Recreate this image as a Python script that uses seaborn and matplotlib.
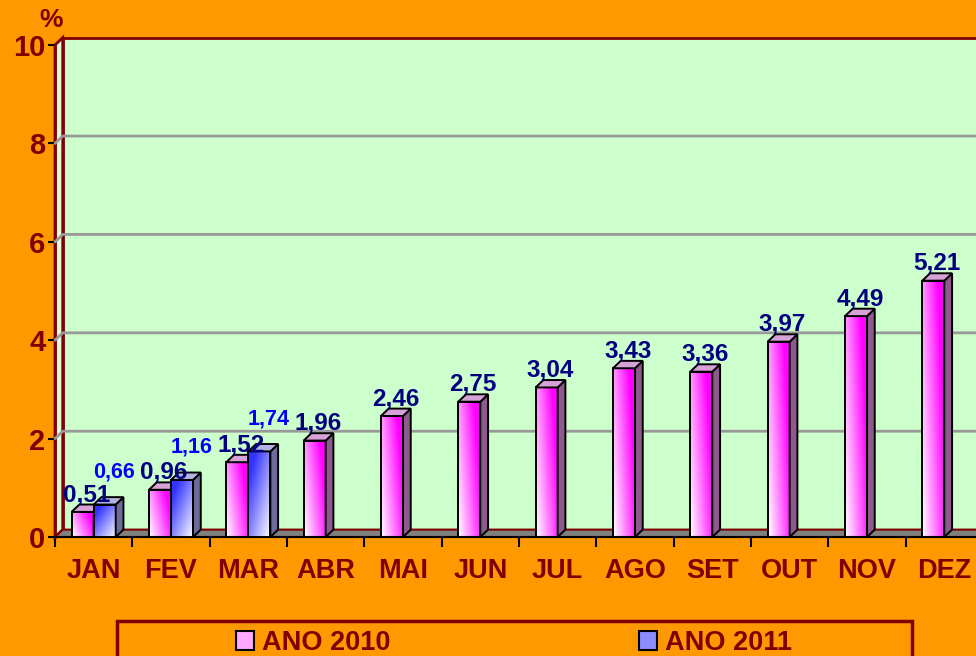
import numpy as np
import pandas as pd
import seaborn as sns
import matplotlib.pyplot as plt
from matplotlib.colors import to_rgb
from matplotlib.patches import Polygon, Rectangle, Patch

# ---------------------------------------------------------------
# Data
# ---------------------------------------------------------------
MESES = ["JAN", "FEV", "MAR", "ABR", "MAI", "JUN", "JUL", "AGO", "SET", "OUT", "NOV", "DEZ"]
ANO_2010 = [0.51, 0.96, 1.52, 1.96, 2.46, 2.75, 3.04, 3.43, 3.36, 3.97, 4.49, 5.21]
ANO_2011 = [0.66, 1.16, 1.74] + [np.nan] * 9
SERIES = ["ANO 2010", "ANO 2011"]
Y_TICKS = [0, 2, 4, 6, 8, 10]

df = pd.DataFrame({
    "mes": MESES * 2,
    "ano": [SERIES[0]] * len(MESES) + [SERIES[1]] * len(MESES),
    "valor": ANO_2010 + ANO_2011,
})

# colours
ORANGE = "#FF9900"
WALL = "#CCFFCC"
DARKRED = "#800000"
BAR_TOP = ["#FF00FF", "#3333FF"]      # strongest colour of each gradient
SIDE = ["#8E5A8E", "#6B6B9C"]
TOPFACE = ["#D7A2D7", "#B4B4E2"]
LABEL_COL = ["#000080", "#0000FF"]

# pseudo 3D depth (data units)
DX, DY = 0.10, 0.15

sns.set_theme(style="white")
plt.rcParams["font.family"] = ["Liberation Sans", "DejaVu Sans"]
plt.rcParams["font.weight"] = "bold"

fig = plt.figure(figsize=(9.76, 6.56), dpi=100, facecolor=ORANGE)
ax = fig.add_axes([55 / 976, 119 / 656, 928 / 976, 492 / 656])
ax.set_facecolor("none")

sns.barplot(data=df, x="mes", y="valor", hue="ano", hue_order=SERIES, order=MESES,
            width=0.57, palette=BAR_TOP, errorbar=None, legend=False, ax=ax)

x0, x1 = -0.5, len(MESES) - 0.5
ymax = Y_TICKS[-1]

# walls + floor
ax.add_patch(Rectangle((x0 + DX, DY), x1 - x0, ymax, fc=WALL, ec=DARKRED, lw=2,
                       zorder=0, clip_on=False))
ax.add_patch(Polygon([(x0, 0), (x0 + DX, DY), (x0 + DX, ymax + DY), (x0, ymax)],
                     fc="#DDFFDD", ec=DARKRED, lw=2, zorder=0.5, clip_on=False))
ax.add_patch(Polygon([(x0, 0), (x1, 0), (x1 + DX, DY), (x0 + DX, DY)],
                     fc="#808080", ec=DARKRED, lw=1.5, zorder=0.5, clip_on=False))
for v in Y_TICKS[1:-1]:
    ax.plot([x0, x0 + DX, x1 + DX], [v, v + DY, v + DY], color="#999999", lw=2,
            zorder=1, clip_on=False)


def gradiente(cor, serie):
    xf, yf = np.meshgrid(np.linspace(0, 1, 24), np.linspace(0, 1, 80))
    if serie == 0:
        t = np.clip(0.85 * xf + 0.4 * yf, 0, 1)
    else:
        t = np.clip(0.6 * (1 - xf) + 0.6 * yf, 0, 1)
    rgb = np.array(to_rgb(cor))
    return (1 - t)[..., None] * np.ones(3) + t[..., None] * rgb


for i, cont in enumerate(ax.containers):
    base = 2 + 3 * i
    for bar in cont:
        h = bar.get_height()
        if np.isnan(h):
            continue
        bx, w = bar.get_x(), bar.get_width()
        ax.imshow(gradiente(BAR_TOP[i], i), extent=[bx, bx + w, 0, h], origin="lower",
                  aspect="auto", zorder=base, interpolation="bilinear")
        bar.set_facecolor("none")
        bar.set_edgecolor("black")
        bar.set_linewidth(1.4)
        bar.set_zorder(base + 1)
        ax.add_patch(Polygon([(bx + w, 0), (bx + w + DX, DY), (bx + w + DX, h + DY), (bx + w, h)],
                             fc=SIDE[i], ec="black", lw=1.4, zorder=base + 1))
        ax.add_patch(Polygon([(bx, h), (bx + DX, h + DY), (bx + w + DX, h + DY), (bx + w, h)],
                             fc=TOPFACE[i], ec="black", lw=1.4, zorder=base + 1))
        rotulo = f"{h:.2f}".replace(".", ",")
        if i == 0:
            ax.text(bx + w / 2 + DX / 2, h + DY + 0.07, rotulo, ha="center", va="baseline",
                    color=LABEL_COL[i], fontsize=17.5, zorder=10)
        else:
            ax.text(bx + w / 2 + 0.12, h + DY + 0.4, rotulo, ha="center", va="baseline",
                    color=LABEL_COL[i], fontsize=15.5, zorder=10)

ax.set_xlim(x0, x1)
ax.set_ylim(0, ymax)
ax.set_xlabel("")
ax.set_ylabel("")

# axes / ticks
ax.set_yticks(Y_TICKS)
ax.tick_params(axis="y", left=True, length=5, width=1.5, color="black",
               labelcolor=DARKRED, labelsize=21, pad=2)
ax.set_xticks(np.arange(x0, x1 + 0.5, 1), minor=True)
ax.tick_params(axis="x", which="major", bottom=False, length=0, pad=15,
               labelcolor=DARKRED, labelsize=19.5)
ax.tick_params(axis="x", which="minor", bottom=True, length=7, width=1.5, color="black")
for s in ["top", "right"]:
    ax.spines[s].set_visible(False)
ax.spines["left"].set_color(DARKRED)
ax.spines["left"].set_linewidth(2)
ax.spines["bottom"].set_color("black")
ax.spines["bottom"].set_linewidth(1.5)
ax.spines["left"].set_zorder(0.6)

fig.text(51 / 976, 1 - 20 / 656, "%", ha="center", va="center", color=DARKRED, fontsize=19)

# legend
handles = [Patch(fc="#FFA8FF", ec="black", lw=1.5), Patch(fc="#8C8CFF", ec="black", lw=1.5)]
fig.legend(handles, SERIES, loc="center", bbox_to_anchor=(514 / 976, 1 - 643 / 656), ncol=2,
           frameon=False, fontsize=19.5, handlelength=0.65, handleheight=0.65,
           handletextpad=0.3, columnspacing=9.2, labelcolor=DARKRED)
fig.add_artist(Rectangle((117 / 976, -0.05), 795 / 976, (656 - 621) / 656 + 0.05,
                         transform=fig.transFigure, fill=False, ec=DARKRED, lw=2.5))

fig.savefig("out.png", dpi=100, facecolor=ORANGE)
